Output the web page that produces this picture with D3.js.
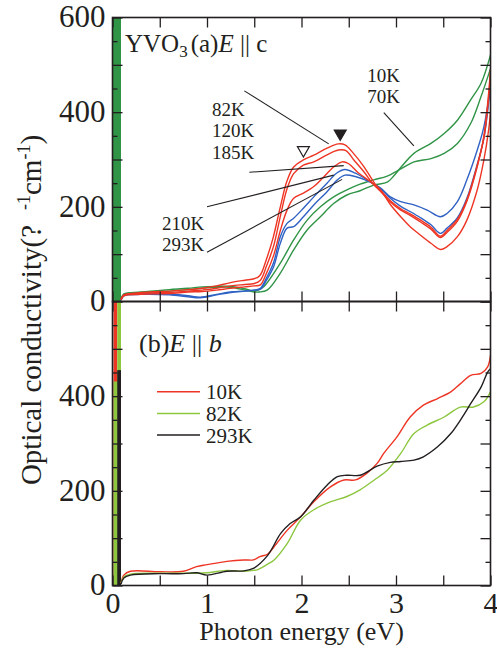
<!DOCTYPE html>
<html>
<head>
<meta charset="utf-8">
<script src="https://cdn.jsdelivr.net/npm/d3@7"></script>
<style>
  html, body { margin: 0; padding: 0; background: #fff; }
  svg { display: block; }
  text { font-family: "Liberation Serif", "Times New Roman", serif; fill: #231f20; }
</style>
</head>
<body>
<svg id="chart" width="497" height="662"></svg>
<script>
// ---------- axes ----------
const energyTicks = [0, 1, 2, 3, 4];
const energyHalfTicks = [0.5, 1.5, 2.5, 3.5];
const sigmaMajorTicks = [0, 100, 200, 300, 400, 500, 600];
const sigmaMinorTicks = [50, 150, 250, 350, 450, 550];
const sigmaLabelsTop = [0, 200, 400, 600];
const sigmaLabelsBottom = [0, 200, 400];

// ---------- (a) E || c : optical conductivity [energy eV, sigma] ----------
const c10K = [[0.09,4],[0.12,14],[0.3,18],[0.6,22],[0.8,25],[0.95,28],[1.1,30],[1.25,30],[1.4,24],[1.5,20],[1.55,20],[1.636,24],[1.776,60],[1.917,109],[2.06,151],[2.2,179],[2.34,207],[2.48,225],[2.62,234],[2.765,246],[2.907,252],[2.98,266],[3.05,283],[3.19,313],[3.37,334],[3.51,355],[3.65,383],[3.79,426],[3.9,461],[4.0,521]];
const c70K = [[0.09,5],[0.12,16],[0.3,20],[0.6,25],[0.8,28],[0.95,31],[1.1,32],[1.25,32],[1.4,27],[1.5,22],[1.55,25],[1.6,31],[1.776,81],[1.917,130],[2.06,172],[2.2,200],[2.34,221],[2.48,236],[2.62,248],[2.765,257],[2.907,265],[3.05,280],[3.19,295],[3.37,302],[3.51,313],[3.65,334],[3.79,376],[3.9,433],[4.0,492]];
const c82K = [[0.09,5],[0.12,14],[0.2,17],[0.4,20],[0.6,22],[0.8,25],[0.95,28],[1.1,33],[1.25,40],[1.4,45],[1.5,48],[1.56,55],[1.63,90],[1.7,135],[1.776,200],[1.847,255],[1.917,284],[2.02,299],[2.13,309],[2.27,324],[2.39,333],[2.46,331],[2.55,313],[2.66,285],[2.78,248],[2.84,235],[2.94,205],[3.05,179],[3.15,158],[3.26,140],[3.37,123],[3.47,110],[3.54,116],[3.65,137],[3.75,172],[3.86,236],[3.93,299],[3.98,362],[4.0,401]];
const c120K = [[0.09,3],[0.12,13],[0.2,16],[0.4,18],[0.6,19],[0.8,22],[0.95,24],[1.1,28],[1.25,33],[1.4,36],[1.5,38],[1.565,45],[1.63,75],[1.706,118],[1.776,180],[1.847,238],[1.917,270],[2.02,288],[2.13,295],[2.27,310],[2.39,320],[2.47,319],[2.55,300],[2.66,274],[2.75,250],[2.84,232],[2.94,210],[3.05,193],[3.15,182],[3.26,168],[3.37,153],[3.47,135],[3.54,146],[3.65,170],[3.75,212],[3.86,285],[3.93,350],[3.98,440],[4.0,490]];
const c185K = [[0.09,4],[0.12,12],[0.3,15],[0.6,17],[0.8,20],[0.95,21],[1.1,24],[1.25,28],[1.4,31],[1.5,33],[1.565,35],[1.63,60],[1.706,98],[1.776,150],[1.847,193],[1.917,218],[2.02,229],[2.13,243],[2.23,262],[2.34,284],[2.43,295],[2.5,291],[2.6,272],[2.75,250],[2.84,234],[2.94,213],[3.05,196],[3.15,185],[3.26,172],[3.37,157],[3.47,138],[3.54,150],[3.65,174],[3.75,215],[3.86,288],[3.93,345],[3.98,430],[4.0,485]];
const c210K = [[0.09,2],[0.12,12],[0.3,15],[0.6,14],[0.8,10],[0.93,8],[1.1,14],[1.25,19],[1.4,22],[1.5,24],[1.565,28],[1.63,50],[1.706,83],[1.776,137],[1.847,165],[1.917,176],[2.02,197],[2.13,221],[2.27,250],[2.37,271],[2.46,279],[2.57,271],[2.75,250],[2.84,238],[2.94,218],[3.05,201],[3.15,190],[3.26,177],[3.37,162],[3.47,144],[3.54,155],[3.65,177],[3.75,218],[3.86,290],[3.93,345],[3.98,420],[4.0,470]];
const c293K = [[0.09,3],[0.12,13],[0.3,16],[0.6,16],[0.8,12],[0.93,9],[1.1,15],[1.25,20],[1.4,22],[1.5,24],[1.565,26],[1.63,45],[1.706,74],[1.776,123],[1.847,155],[1.917,158],[2.02,179],[2.13,204],[2.27,232],[2.38,257],[2.46,267],[2.57,264],[2.75,250],[2.84,239],[2.94,221],[3.05,211],[3.19,204],[3.33,193],[3.47,179],[3.54,186],[3.65,211],[3.75,257],[3.86,320],[3.93,369],[4.0,454]];

// ---------- (b) E || b ----------
const b10K = [[0.09,5],[0.12,22],[0.19,30],[0.5,29],[0.75,30],[0.89,40],[1.0,44],[1.21,51],[1.39,54],[1.49,54],[1.56,61],[1.64,66],[1.71,82],[1.85,117],[1.99,145],[2.13,177],[2.31,209],[2.45,223],[2.57,223],[2.69,237],[2.8,258],[2.87,279],[3.01,314],[3.15,356],[3.29,381],[3.44,395],[3.58,409],[3.68,426],[3.79,444],[3.9,448],[3.97,462],[4.0,486]];
const b82K = [[0.09,5],[0.12,18],[0.19,24],[0.5,26],[0.75,26],[0.89,26],[1.0,27],[1.21,32],[1.39,30],[1.49,32],[1.53,33],[1.64,45],[1.71,54],[1.85,89],[1.99,138],[2.13,160],[2.31,177],[2.48,188],[2.62,202],[2.77,223],[2.91,244],[3.05,279],[3.19,321],[3.33,339],[3.51,356],[3.68,377],[3.82,377],[3.93,388],[4.0,409]];
const b293K = [[0.09,3],[0.12,16],[0.19,22],[0.5,25],[0.75,25],[0.89,27],[1.0,22],[1.21,30],[1.39,31],[1.49,36],[1.64,63],[1.78,110],[1.88,131],[1.99,145],[2.13,180],[2.27,212],[2.38,230],[2.48,233],[2.62,233],[2.8,252],[2.94,260],[3.05,262],[3.19,265],[3.29,272],[3.44,293],[3.58,321],[3.68,349],[3.79,384],[3.9,419],[3.97,451],[4.0,458]];

// off-scale phonon structure below 0.1 eV: energy band and top of the trace
const phononC = [{e0:0.004, e1:0.09, top:600, color:"#2f9446"}];
const phononB = [
  {e0:0.01, e1:0.05, top:600, color:"#ee3524"},
  {e0:0.01, e1:0.05, top:431, color:"#8dc63f"},
  {e0:0.05, e1:0.09, top:600, color:"#8dc63f"},
  {e0:0.05, e1:0.09, top:455, color:"#231f20"}
];

// peak markers (energy, height above curve)
const peakMarks = [{e:2.41, v:355, filled:true}, {e:2.02, v:320, filled:false}];

// temperature labels in panel (a) and their leader lines
const labelsC = [
  {text:"10K", e:2.695, v:463}, {text:"70K", e:2.695, v:419},
  {text:"82K", e:1.053, v:392}, {text:"120K", e:1.053, v:347}, {text:"185K", e:1.053, v:301},
  {text:"210K", e:0.523, v:151}, {text:"293K", e:0.523, v:106}
];
const leadersC = [
  [[1.395,445],[2.288,333]],
  [[1.448,273],[2.447,287]],
  [[1.0,200],[2.341,267]],
  [[1.0,104],[2.43,258]],
  [[2.871,399],[3.189,329]]
];

const seriesC = [
  {name:"10K", data:c10K, color:"#2f9446"},
  {name:"70K", data:c70K, color:"#2f9446"},
  {name:"293K", data:c293K, color:"#2f62c4"},
  {name:"210K", data:c210K, color:"#2f62c4"},
  {name:"185K", data:c185K, color:"#ee3524"},
  {name:"120K", data:c120K, color:"#ee3524"},
  {name:"82K", data:c82K, color:"#ee3524"}
];
const seriesB = [
  {name:"10K", data:b10K, color:"#ee3524"},
  {name:"82K", data:b82K, color:"#8dc63f"},
  {name:"293K", data:b293K, color:"#231f20"}
];

// ---------- layout ----------
const svg = d3.select("#chart");
const left = 112.5, right = 490.5;
const x = d3.scaleLinear().domain([0, 4]).range([left, right]);
const panels = [
  {id:"a", y:d3.scaleLinear().domain([0,600]).range([301.5,17.5]), series:seriesC, phonon:phononC, labels:sigmaLabelsTop},
  {id:"b", y:d3.scaleLinear().domain([0,600]).range([585.5,301.5]), series:seriesB, phonon:phononB, labels:sigmaLabelsBottom}
];

const defs = svg.append("defs");

panels.forEach(p => {
  const [yb, yt] = p.y.range();
  defs.append("clipPath").attr("id", "clip-" + p.id)
    .append("rect").attr("x", left).attr("y", yt).attr("width", right - left).attr("height", yb - yt);

  const g = svg.append("g").attr("clip-path", `url(#clip-${p.id})`);

  g.selectAll("rect.phonon").data(p.phonon).join("rect")
    .attr("class", "phonon")
    .attr("x", d => x(d.e0)).attr("width", d => x(d.e1) - x(d.e0))
    .attr("y", d => p.y(d.top)).attr("height", d => p.y(0) - p.y(d.top) + 2)
    .attr("fill", d => d.color);

  const line = d3.line().x(d => x(d[0])).y(d => p.y(d[1])).curve(d3.curveCatmullRom.alpha(0.5));
  g.selectAll("path.curve").data(p.series).join("path")
    .attr("class", "curve")
    .attr("d", d => line(d.data))
    .attr("fill", "none").attr("stroke", d => d.color).attr("stroke-width", 1.4);

  // inward ticks on all four sides
  const tickStyle = sel => { sel.select(".domain").remove(); sel.selectAll("line").attr("stroke", "#231f20").attr("stroke-width", 1.3); sel.selectAll("text").remove(); };
  svg.append("g").attr("transform", `translate(0,${yb})`)
    .call(d3.axisTop(x).tickValues(energyTicks.concat(energyHalfTicks)).tickSize(10).tickSizeOuter(0)).call(tickStyle);
  svg.append("g").attr("transform", `translate(0,${yt})`)
    .call(d3.axisBottom(x).tickValues(energyTicks.concat(energyHalfTicks)).tickSize(10).tickSizeOuter(0)).call(tickStyle);
  svg.append("g").attr("transform", `translate(${right},0)`)
    .call(d3.axisLeft(p.y).tickValues(sigmaMajorTicks).tickSize(10).tickSizeOuter(0)).call(tickStyle);
  svg.append("g").attr("transform", `translate(${right},0)`)
    .call(d3.axisLeft(p.y).tickValues(sigmaMinorTicks).tickSize(5).tickSizeOuter(0)).call(tickStyle);
  svg.append("g").attr("transform", `translate(${left},0)`)
    .call(d3.axisRight(p.y).tickValues(sigmaMajorTicks).tickSize(10).tickSizeOuter(0)).call(tickStyle);
  svg.append("g").attr("transform", `translate(${left},0)`)
    .call(d3.axisRight(p.y).tickValues(sigmaMinorTicks).tickSize(5).tickSizeOuter(0)).call(tickStyle);

  // y tick labels
  const ya = svg.append("g").attr("transform", `translate(${left},0)`)
    .call(d3.axisLeft(p.y).tickValues(p.labels).tickSize(0).tickPadding(7).tickFormat(d3.format("d")));
  ya.select(".domain").remove();
  ya.attr("font-family", null).attr("font-size", null);
  ya.selectAll("text").attr("font-size", 31).attr("dy", "0.3em").attr("fill", "#231f20");

  // frame
  svg.append("rect").attr("x", left).attr("y", yt).attr("width", right - left).attr("height", yb - yt)
    .attr("fill", "none").attr("stroke", "#231f20").attr("stroke-width", 1.6);
});

// x tick labels and title
const xa = svg.append("g").attr("transform", `translate(0,${panels[1].y(0)})`)
  .call(d3.axisBottom(x).tickValues(energyTicks).tickSize(0).tickPadding(6).tickFormat(d3.format("d")));
xa.select(".domain").remove();
xa.attr("font-family", null).attr("font-size", null);
xa.selectAll("text").attr("font-size", 30).attr("fill", "#231f20");

svg.append("text").attr("x", x(2)).attr("y", 640).attr("text-anchor", "middle")
  .attr("font-size", 26).text("Photon energy (eV)");

// y title
const yt = svg.append("text").attr("transform", "translate(41,310) rotate(-90)")
  .attr("text-anchor", "middle").attr("font-size", 29);
yt.append("tspan").text("Optical conductivity(?");
yt.append("tspan").attr("dx", 15).attr("dy", -11).attr("font-size", 18).text("-1");
yt.append("tspan").attr("dy", 11).text("cm");
yt.append("tspan").attr("dy", -11).attr("font-size", 18).text("-1");
yt.append("tspan").attr("dy", 11).text(")");

// panel (a) annotations
const ya0 = panels[0].y;
svg.append("g").selectAll("line").data(leadersC).join("line")
  .attr("x1", d => x(d[0][0])).attr("y1", d => ya0(d[0][1]))
  .attr("x2", d => x(d[1][0])).attr("y2", d => ya0(d[1][1]))
  .attr("stroke", "#231f20").attr("stroke-width", 1.1);
svg.append("g").selectAll("text").data(labelsC).join("text")
  .attr("x", d => x(d.e)).attr("y", d => ya0(d.v)).attr("font-size", 19).text(d => d.text);
svg.append("g").selectAll("path").data(peakMarks).join("path")
  .attr("transform", d => `translate(${x(d.e)},${ya0(d.v)}) rotate(180)`)
  .attr("d", d3.symbol(d3.symbolTriangle, 62))
  .attr("fill", d => d.filled ? "#231f20" : "#fff").attr("stroke", "#231f20").attr("stroke-width", 1.2);

// panel titles
const ta = svg.append("text").attr("x", 125).attr("y", 51.5).attr("font-size", 25);
ta.append("tspan").text("YVO");
ta.append("tspan").attr("font-size", 17).attr("dy", 5).text("3");
ta.append("tspan").attr("dy", -5).attr("dx", 3).text("(a)");
ta.append("tspan").attr("font-style", "italic").text("E");
ta.append("tspan").text(" || c");

const tb = svg.append("text").attr("x", 139).attr("y", 351.5).attr("font-size", 26);
tb.append("tspan").text("(b)");
tb.append("tspan").attr("font-style", "italic").text("E");
tb.append("tspan").text(" || ");
tb.append("tspan").attr("font-style", "italic").text("b");

// panel (b) legend
const legend = svg.append("g").selectAll("g").data(seriesB).join("g")
  .attr("transform", (d, i) => `translate(157,${391.7 + i * 21.7})`);
legend.append("line").attr("x1", 0).attr("x2", 43).attr("stroke", d => d.color).attr("stroke-width", 1.5);
legend.append("text").attr("x", 49).attr("dy", "0.36em").attr("font-size", 21).text(d => d.name);
</script>
</body>
</html>
